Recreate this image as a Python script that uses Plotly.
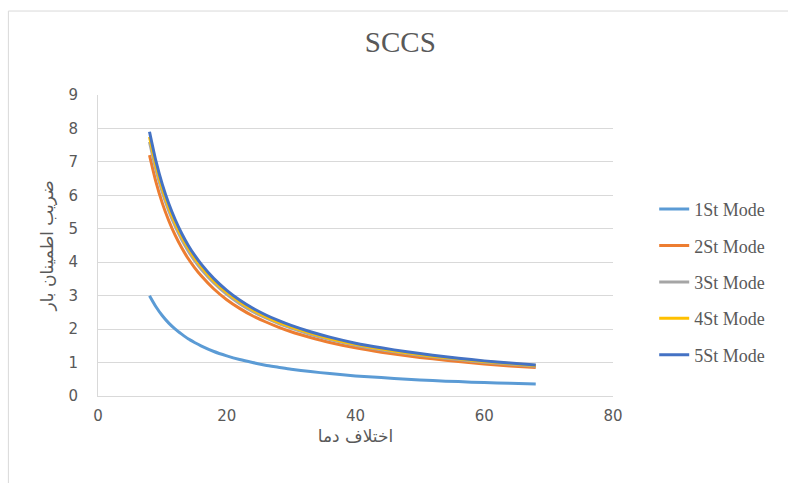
import plotly.graph_objects as go

x_vals = [8, 9, 10, 11, 12, 13, 14, 15, 16, 18, 20, 22, 24, 26, 28, 30, 33, 36, 40, 44, 48, 52, 56, 60, 64, 68]

mode1 = [3.00, 2.67, 2.40, 2.18, 2.00, 1.85, 1.71, 1.60, 1.50, 1.33, 1.20, 1.09, 1.00, 0.92, 0.86, 0.80, 0.73, 0.67, 0.60, 0.55, 0.50, 0.46, 0.43, 0.40, 0.38, 0.36]
mode2 = [7.20, 6.40, 5.76, 5.24, 4.80, 4.43, 4.11, 3.84, 3.60, 3.20, 2.88, 2.62, 2.40, 2.22, 2.06, 1.92, 1.75, 1.60, 1.44, 1.31, 1.20, 1.11, 1.03, 0.96, 0.90, 0.85]
mode3 = [7.60, 6.76, 6.08, 5.53, 5.07, 4.68, 4.34, 4.05, 3.80, 3.38, 3.04, 2.76, 2.53, 2.34, 2.17, 2.03, 1.84, 1.69, 1.52, 1.38, 1.27, 1.17, 1.09, 1.01, 0.95, 0.89]
mode4 = [7.75, 6.89, 6.20, 5.64, 5.17, 4.77, 4.43, 4.13, 3.88, 3.44, 3.10, 2.82, 2.58, 2.38, 2.21, 2.07, 1.88, 1.72, 1.55, 1.41, 1.29, 1.19, 1.11, 1.03, 0.97, 0.91]
mode5 = [7.90, 7.02, 6.32, 5.75, 5.27, 4.86, 4.51, 4.21, 3.95, 3.51, 3.16, 2.87, 2.63, 2.43, 2.26, 2.11, 1.92, 1.76, 1.58, 1.44, 1.32, 1.22, 1.13, 1.05, 0.99, 0.93]

series_names = ["1St Mode", "2St Mode", "3St Mode", "4St Mode", "5St Mode"]
series_colors = ["#5B9BD5", "#ED7D31", "#A5A5A5", "#FFC000", "#4472C4"]
series_values = [mode1, mode2, mode3, mode4, mode5]

title_text = "SCCS"
x_title = "اختلاف دما"
y_title = "ضریب اطمینان بار"

fig = go.Figure()
for i, (name, color, vals) in enumerate(zip(series_names, series_colors, series_values)):
    fig.add_trace(go.Scatter(
        x=x_vals, y=vals, mode="lines", name=name,
        line=dict(color=color, width=3, shape="spline", smoothing=0.6),
        legendgroup=f"g{i}",
    ))

fig.update_layout(
    width=788, height=483,
    margin=dict(l=98, r=175, t=95, b=87),
    paper_bgcolor="white", plot_bgcolor="white",
    title=dict(text=title_text, x=0.508, xanchor="center", y=0.913, yanchor="middle",
               font=dict(family="Liberation Serif", size=29, color="#595959")),
    showlegend=True,
    legend=dict(x=1.08, xanchor="left", y=0.379, yanchor="middle",
                font=dict(family="Liberation Serif", size=18, color="#595959"),
                tracegroupgap=10, bgcolor="rgba(0,0,0,0)"),
    xaxis=dict(range=[0, 80], tickvals=[0, 20, 40, 60, 80], showgrid=False,
               showline=True, linecolor="#D9D9D9", linewidth=1, zeroline=False,
               ticks="", ticklabelstandoff=6,
               tickfont=dict(family="DejaVu Sans", size=15, color="#595959"),
               title=dict(text=x_title, standoff=6,
                          font=dict(family="DejaVu Sans", size=17, color="#595959"))),
    yaxis=dict(range=[0, 9], dtick=1, showgrid=True, gridcolor="#D9D9D9", gridwidth=1,
               showline=True, linecolor="#D9D9D9", linewidth=1, zeroline=False,
               ticks="", ticklabelstandoff=16,
               tickfont=dict(family="DejaVu Sans", size=15, color="#595959"),
               title=dict(text=y_title, standoff=10,
                          font=dict(family="DejaVu Sans", size=17, color="#595959"))),
    shapes=[dict(type="rect", xref="paper", yref="paper",
                 x0=-0.174, x1=1.5, y0=-0.6, y1=1.279,
                 line=dict(color="#D9D9D9", width=1), fillcolor="rgba(0,0,0,0)", layer="below")],
)

fig.write_html("out.html")
